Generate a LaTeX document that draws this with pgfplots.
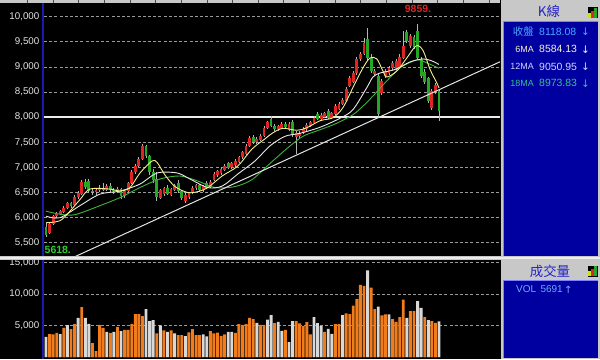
\documentclass[border=0pt]{standalone}
\usepackage{pgfplots}
\pgfplotsset{compat=1.18}
\usepackage{pgfplotstable}
\usepackage{fontspec}
\setmainfont{Liberation Sans}
\newfontfamily\cjk{Noto Sans CJK TC}
\newfontfamily\dejavu{DejaVu Sans}
\definecolor{upred}{HTML}{E02424}
\definecolor{dngreen}{HTML}{22A822}
\definecolor{wick}{HTML}{B4B4B4}
\definecolor{volor}{HTML}{F07C1C}
\definecolor{volwh}{HTML}{D8D8D8}
\definecolor{maS}{HTML}{F4F08C}
\definecolor{maM}{HTML}{E8E8E8}
\definecolor{maL}{HTML}{3CB43C}
\definecolor{panelblue}{HTML}{0000A0}
\definecolor{hdrgray}{HTML}{C8C8C8}
\definecolor{gridgray}{HTML}{9A9A9A}
\definecolor{navyline}{HTML}{1A1AB0}
\definecolor{ticktxt}{HTML}{E4E4E4}

\pgfplotstableread{
i o h l c
1 5700 5900 5680 5880
2 5880 6060 5850 6040
3 6040 6120 6000 6080
4 6080 6160 6050 6130
5 6120 6230 6100 6200
6 6190 6320 6170 6290
8 6250 6450 6230 6420
9 6420 6530 6380 6500
10 6480 6760 6460 6720
14 6510 6580 6460 6560
15 6560 6650 6520 6600
17 6560 6680 6530 6640
20 6540 6620 6500 6580
22 6430 6560 6400 6530
23 6530 6720 6500 6700
24 6700 6950 6680 6900
25 6900 7060 6870 7030
26 7030 7200 7000 7170
27 7170 7470 7150 7420
32 6400 6580 6380 6550
33 6480 6620 6440 6600
35 6460 6600 6430 6580
36 6560 6680 6530 6650
39 6330 6490 6290 6460
40 6420 6520 6380 6500
41 6500 6630 6470 6600
42 6600 6680 6560 6650
44 6550 6660 6520 6630
46 6620 6750 6600 6720
47 6760 6900 6740 6870
48 6850 6950 6820 6920
49 6880 7000 6850 6970
50 6950 7060 6920 7030
52 7000 7110 6970 7080
53 7040 7160 7010 7130
54 7110 7230 7090 7200
55 7200 7320 7170 7300
56 7270 7460 7250 7430
57 7430 7620 7400 7590
59 7500 7600 7470 7560
60 7550 7660 7520 7630
61 7630 7820 7610 7790
62 7790 7930 7760 7900
65 7760 7850 7730 7820
66 7790 7900 7770 7870
68 7750 7900 7720 7870
70 7600 7720 7270 7690
71 7620 7720 7580 7690
72 7690 7800 7660 7770
73 7760 7880 7730 7850
74 7820 7930 7800 7900
75 7890 8020 7870 7990
77 7970 8080 7950 8050
78 8000 8110 7980 8080
80 7990 8110 7970 8080
81 8070 8260 8050 8230
82 8170 8300 8150 8270
83 8270 8380 8240 8350
84 8330 8600 8310 8570
85 8630 8820 8600 8780
86 8700 8920 8680 8880
87 8880 9200 8850 9160
88 9160 9300 9120 9260
89 9260 9580 9230 9480
92 8860 8960 8820 8920
94 8490 8760 8450 8720
95 8820 8950 8780 8920
96 8880 9010 8850 8980
97 8980 9110 8940 9080
98 8960 9150 8930 9120
99 9000 9250 8980 9200
100 9180 9720 9150 9420
102 9420 9650 9380 9620
108 8190 8560 8150 8520
109 8500 8680 8460 8650
}\upcandles

\pgfplotstableread{
i o h l c
0 5820 5900 5618 5660
7 6290 6320 6200 6240
11 6720 6780 6580 6620
12 6740 6780 6500 6540
13 6540 6600 6450 6510
16 6600 6700 6540 6560
18 6640 6700 6520 6560
19 6560 6600 6480 6540
21 6580 6600 6380 6430
28 7420 7450 7180 7230
29 7230 7250 6850 6900
30 6900 6960 6700 6760
31 6780 6900 6340 6420
34 6600 6650 6460 6480
37 6700 6750 6500 6530
38 6530 6560 6360 6390
43 6650 6680 6520 6550
45 6700 6730 6570 6600
51 7080 7100 6960 6990
58 7600 7640 7470 7500
63 7960 8030 7800 7830
64 7830 7870 7720 7760
67 7870 7900 7770 7800
69 7900 7950 7600 7650
76 8070 8100 7940 7970
79 8130 8160 7960 7990
90 9560 9780 9120 9180
91 9180 9250 8880 8920
93 8820 8880 8000 8070
101 9700 9740 9480 9520
103 9600 9640 9360 9400
104 9720 9859 9150 9180
105 9160 9200 8780 8820
106 8900 8950 8660 8700
107 8780 8800 8280 8330
110 8520 8540 7930 8118
}\dncandles

\pgfplotstableread{
i vo vw
0 0 3220
1 3650 0
2 3600 0
3 3860 0
4 0 3650
5 4650 0
6 0 5080
7 4440 0
8 5240 0
9 0 6240
10 7940 0
11 0 6240
12 0 5290
13 2220 0
14 950 0
15 5130 0
16 4650 0
17 0 4020
18 3860 0
19 0 4020
20 4810 0
21 0 4120
22 4330 0
23 4330 0
24 5290 0
25 6820 0
26 6820 0
27 6500 0
28 0 7620
29 0 5710
30 0 5870
31 3760 0
32 0 5020
33 4230 0
34 0 4020
35 4230 0
36 0 3760
37 3500 0
38 3500 0
39 0 3340
40 3910 0
41 4440 0
42 3500 0
43 3500 0
44 0 3600
45 0 3280
46 4120 0
47 3760 0
48 3900 0
49 3380 0
50 3600 0
51 0 4020
52 0 4020
53 3860 0
54 5240 0
55 5080 0
56 5240 0
57 6240 0
58 6030 0
59 0 5450
60 5130 0
61 5130 0
62 0 5970
63 0 6660
64 5400 0
65 0 5610
66 0 4180
67 4330 0
68 0 2380
69 0 5710
70 5710 0
71 5340 0
72 4920 0
73 5560 0
74 3600 0
75 0 6350
76 0 5400
77 0 4920
78 4020 0
79 0 4490
80 0 3700
81 5240 0
82 5240 0
83 0 6660
84 6930 0
85 6820 0
86 8200 0
87 9200 0
88 11480 0
89 11320 0
90 0 13810
91 11060 0
92 7620 0
93 0 8040
94 6610 0
95 6770 0
96 0 6770
97 6030 0
98 5610 0
99 6350 0
100 9150 0
101 0 6240
102 7300 0
103 7300 0
104 0 8900
105 0 7830
106 6350 0
107 0 5870
108 5710 0
109 5450 0
110 0 5691
}\vol

\begin{document}
\begin{tikzpicture}[x=1bp,y=1bp]
\useasboundingbox (0,0) rectangle (600,359);
\fill[black] (0,0) rectangle (600,359);

% ---------- price panel ----------
\begin{axis}[
  at={(44bp,103bp)}, anchor=south west,
  width=456bp, height=253bp, scale only axis,
  xmin=-0.56, xmax=127.07, ymin=5238, ymax=10273,
  axis line style={draw=none},
  xtick=\empty,
  ytick={5500,6000,...,10000},
  major tick length=0pt,
  scaled y ticks=false,
  ymajorgrids,
  grid style={gridgray, dash pattern=on 3bp off 2.2bp, line width=0.8bp},
  yticklabel style={font=\fontsize{9.8}{10}\selectfont, text=ticktxt, inner sep=0pt, xshift=-4.5bp},
  /pgf/number format/1000 sep={,},
  /pgf/number format/assume math mode=true,
]
\addplot[white!92!black, line width=1.5bp, forget plot] coordinates {(-0.56,8000) (127.07,8000)};
% wicks
\addplot[forget plot, wick, line width=0.8bp, mark=none, quiver={u=0, v=\thisrow{h}-\thisrow{l}}, -]
  table[x=i, y=l] {\upcandles};
\addplot[forget plot, wick, line width=0.8bp, mark=none, quiver={u=0, v=\thisrow{h}-\thisrow{l}}, -]
  table[x=i, y=l] {\dncandles};
% bodies
\addplot[forget plot, upred, line width=2.8bp, mark=none, quiver={u=0, v=\thisrow{c}-\thisrow{o}}, -]
  table[x=i, y=o] {\upcandles};
\addplot[forget plot, dngreen, line width=2.8bp, mark=none, quiver={u=0, v=\thisrow{c}-\thisrow{o}}, -]
  table[x=i, y=o] {\dncandles};
% moving averages
\addplot[maL, line width=0.9bp, smooth, tension=0.5] coordinates {
(0,6130) (3.9,6070) (8.1,6060) (15.1,6240) (20.7,6400) (26.3,6600) (31.9,6770) (37.5,6830)
(42.5,6730) (47.3,6600) (52.9,6620) (57.7,6760) (62.7,7080) (67.5,7380) (71.9,7620) (76.7,7750)
(81.4,7880) (85.9,8050) (88.7,8220) (91.5,8420) (94.3,8640) (99.1,8980) (103.8,9140) (106.6,9080) (110,8974)};
\addplot[maM, line width=0.9bp, smooth, tension=0.5] coordinates {
(0,6030) (3.9,6000) (9.5,6240) (15.1,6470) (20.7,6530) (26.3,6670) (31.1,6890) (36.7,6890)
(40.3,6770) (45.3,6600) (49.3,6630) (53.7,6870) (58.5,7130) (62.7,7430) (66.9,7620) (71.1,7680)
(76.7,7800) (82.3,7980) (85.9,8150) (89.8,8590) (91.5,8800) (93.5,8880) (97.7,8950) (101.9,9100)
(105.5,9160) (108,9120) (110,9050)};
\addplot[maS, line width=0.9bp, smooth, tension=0.5] coordinates {
(0,5900) (3.9,5940) (6.7,6130) (9.5,6360) (12.3,6570) (17.9,6570) (20.7,6530) (23.5,6600)
(26.3,6890) (29.7,7130) (31.1,7100) (33.3,6850) (36.1,6620) (39.7,6500) (42.5,6520) (45.3,6600)
(49.3,6830) (53.7,7030) (57.7,7370) (61.3,7570) (63.5,7690) (66.3,7780) (70.2,7740) (73,7790)
(76.7,7930) (80.3,7990) (83.1,8190) (85.9,8590) (88.7,8980) (90.7,9180) (92.6,9160) (94.3,8920)
(95.4,8800) (98.2,8920) (101,9180) (103.6,9420) (105.5,9330) (107.5,8950) (109.4,8680) (110,8584)};
% trend line
\addplot[ticktxt, line width=1bp] coordinates {(7.3,5199) (127.1,9104)};
\end{axis}

% ---------- volume panel ----------
\begin{axis}[
  at={(44bp,2bp)}, anchor=south west,
  width=456bp, height=97.5bp, scale only axis,
  xmin=-0.56, xmax=127.07, ymin=0, ymax=15525,
  axis line style={draw=none},
  xtick=\empty,
  ytick={5000,10000,15000},
  major tick length=0pt,
  scaled y ticks=false,
  ymajorgrids,
  grid style={gridgray, dash pattern=on 3bp off 2.2bp, line width=0.8bp},
  yticklabel style={font=\fontsize{9.8}{10}\selectfont, text=ticktxt, inner sep=0pt, xshift=-4.5bp},
  /pgf/number format/1000 sep={,},
  /pgf/number format/assume math mode=true,
]
\addplot[ybar, bar width=2.9bp, bar shift=0pt, fill=volor, draw=none] table[x=i, y=vo] {\vol};
\addplot[ybar, bar width=2.9bp, bar shift=0pt, fill=volwh, draw=none] table[x=i, y=vw] {\vol};
\end{axis}

% ---------- frame decorations ----------
\fill[navyline] (41.7,0) rectangle (44.2,356);
\fill[hdrgray] (0,99.5) rectangle (600,103);
\fill[white!92!black] (0,100.5) rectangle (600,101.7);
\fill[hdrgray] (0,356) rectangle (500,359);
\foreach \xx in {27,53,78,104,130,155,181,207,232,258,283,309,335,360,386,412,437,463,489}
  \draw[gray!60!black, line width=0.6bp] (\xx,356) -- (\xx,359);

% annotations
\node[font=\bfseries\fontsize{10.5}{11}\selectfont, text=upred, inner sep=0pt] at (418,350) {9859.};
\node[font=\bfseries\fontsize{10.5}{11}\selectfont, text={rgb,255:red,40;green,210;blue,40}, inner sep=0pt, anchor=west] at (44.5,109.5) {5618.};

% right upper panel
\fill[hdrgray] (500.5,103) rectangle (600,359);
\fill[panelblue] (503.5,103) rectangle (598,337.5);
\draw[blue!50!white, line width=0.6bp] (503.5,103) -- (503.5,337.5) -- (598,337.5);
\node[font=\cjk\fontsize{13.5}{14}\selectfont, text={rgb,255:red,36;green,36;blue,200}, inner sep=0pt] at (549,348) {K線};
\fill[black] (587.5,340.5) rectangle (597.5,351.5);
\fill[yellow!80!green] (588.2,341) rectangle (590.8,346);
\fill[upred] (591.2,341) rectangle (593.8,348);
\fill[dngreen] (594.2,341) rectangle (596.8,351);
\node[font=\cjk\fontsize{10.5}{11}\selectfont, text={rgb,255:red,74;green,168;blue,255}, inner sep=0pt, anchor=east] at (534,327.3) {收盤};
\node[font=\fontsize{10.5}{11}\selectfont, text={rgb,255:red,74;green,168;blue,255}, inner sep=0pt, anchor=west] at (539,327.3) {8118.08};
\node[font=\dejavu\fontsize{10.5}{11}\selectfont, text={rgb,255:red,74;green,168;blue,255}, inner sep=0pt, anchor=west] at (581,327.3) {↓};
\node[font=\fontsize{9}{10}\selectfont, text={rgb,255:red,250;green,244;blue,205}, inner sep=0pt, anchor=east] at (534,309.7) {6MA};
\node[font=\fontsize{10.5}{11}\selectfont, text={rgb,255:red,250;green,244;blue,205}, inner sep=0pt, anchor=west] at (539,309.7) {8584.13};
\node[font=\dejavu\fontsize{10.5}{11}\selectfont, text={rgb,255:red,250;green,244;blue,205}, inner sep=0pt, anchor=west] at (581,309.7) {↓};
\node[font=\fontsize{9}{10}\selectfont, text={rgb,255:red,210;green,214;blue,255}, inner sep=0pt, anchor=east] at (534,292.3) {12MA};
\node[font=\fontsize{10.5}{11}\selectfont, text={rgb,255:red,210;green,214;blue,255}, inner sep=0pt, anchor=west] at (539,292.3) {9050.95};
\node[font=\dejavu\fontsize{10.5}{11}\selectfont, text={rgb,255:red,210;green,214;blue,255}, inner sep=0pt, anchor=west] at (581,292.3) {↓};
\node[font=\fontsize{9}{10}\selectfont, text={rgb,255:red,56;green,192;blue,144}, inner sep=0pt, anchor=east] at (534,275.7) {18MA};
\node[font=\fontsize{10.5}{11}\selectfont, text={rgb,255:red,56;green,192;blue,144}, inner sep=0pt, anchor=west] at (539,275.7) {8973.83};
\node[font=\dejavu\fontsize{10.5}{11}\selectfont, text={rgb,255:red,56;green,192;blue,144}, inner sep=0pt, anchor=west] at (581,275.7) {↓};

% right lower panel
\fill[hdrgray] (500.5,0) rectangle (600,99.5);
\fill[panelblue] (503.5,1.5) rectangle (598,78.5);
\draw[blue!50!white, line width=0.6bp] (503.5,1.5) -- (503.5,78.5) -- (598,78.5);
\node[font=\cjk\fontsize{13.5}{14}\selectfont, text={rgb,255:red,36;green,36;blue,200}, inner sep=0pt] at (550,88) {成交量};
\fill[black] (587.5,82.5) rectangle (597.5,93.5);
\fill[yellow!80!green] (588.2,83) rectangle (590.8,88);
\fill[upred] (591.2,83) rectangle (593.8,90);
\fill[dngreen] (594.2,83) rectangle (596.8,93);
\node[font=\fontsize{10}{11}\selectfont, text={rgb,255:red,120;green,168;blue,255}, inner sep=0pt, anchor=west] at (516,69.5) {VOL\, 5691};
\node[font=\dejavu\fontsize{10}{11}\selectfont, text={rgb,255:red,120;green,168;blue,255}, inner sep=0pt, anchor=west] at (564,69.5) {↑};
\end{tikzpicture}
\end{document}
